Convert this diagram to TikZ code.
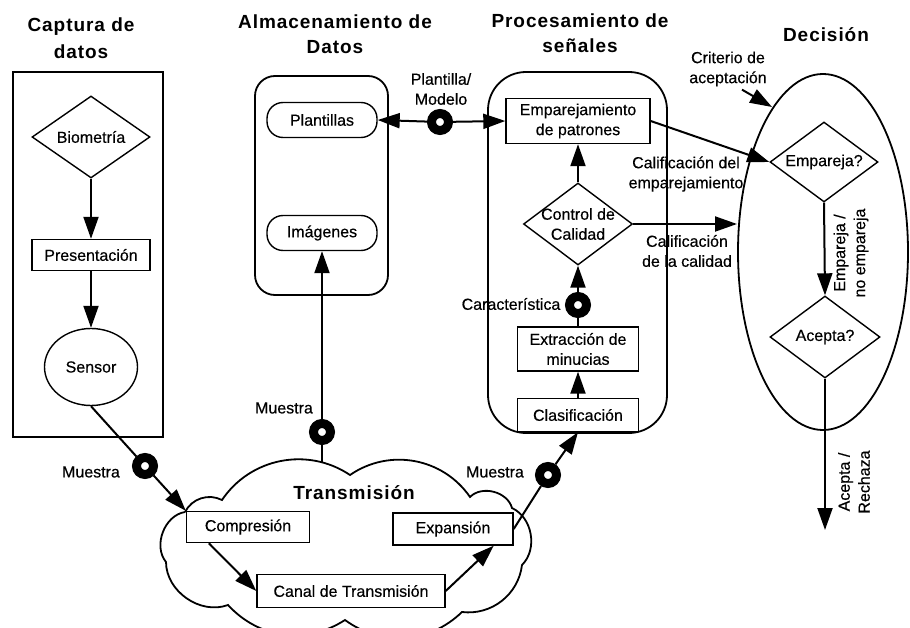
\documentclass[tikz,border=0pt]{standalone}
\usepackage{fontspec}
\setmainfont{Liberation Sans}
\newfontfamily\textofont[FakeBold=0.4]{Liberation Sans}
\newfontfamily\titfont[LetterSpace=5]{Liberation Sans}
\usepackage{tikz}
\usetikzlibrary{calc}
\usetikzlibrary{shapes}
\usetikzlibrary{arrows.meta}
\newcommand{\anillo}[3]{\node[anillo] (#1) at ( #2 , #3 ) {};}
\newcommand{\titulo}[4]{\node[tit] (#1) at ( #2 , #3 ) {#4};}

\begin{document}
\begin{tikzpicture}[x=1pt,y=-1pt,
    every node/.style={font=\textofont\fontsize{16}{20}\selectfont, inner sep=1pt, align=center},
    tit/.style={font=\titfont\bfseries\fontsize{19}{23}\selectfont},
    caja/.style={draw, line width=1.4pt},
    rombo/.style={draw, diamond, line width=1.4pt, aspect=1.35, inner sep=0pt},
    pildora/.style={draw, line width=1.4pt, rounded corners=16pt, minimum width=110pt, minimum height=35pt},
    anillo/.style={circle, draw=black, line width=9pt, fill=white, minimum size=17pt, inner sep=0pt},
    marco/.style={line width=1.8pt},
    linea/.style={line width=2pt},
    flecha/.style={line width=2pt, -{Triangle[length=22pt,width=15pt]}}]
    \useasboundingbox (0,0) rectangle (910,628);

    % titulos
    \titulo{t1}{81}{27}{Captura de}
    \titulo{t2}{81}{52}{datos}
    \titulo{t3}{335}{22}{Almacenamiento de}
    \titulo{t4}{335}{47}{Datos}
    \titulo{t5}{580}{21}{Procesamiento de}
    \titulo{t6}{580}{46}{señales}
    \titulo{t7}{826}{35}{Decisión}

    % contenedores
    \draw[marco] (13,72) rectangle (163,437);
    \draw[marco, rounded corners=20pt] (255,76) rectangle (388,295);
    \draw[marco, rounded corners=38pt] (488,72) rectangle (667,433);
    \draw[marco] (823,252) ellipse [x radius=85pt, y radius=178pt];
    \draw[marco] (185,512) to[bend left=45] (222,500) to[bend left=45] (350,475)
        to[bend left=45] (470,497) to[bend left=60] (512,508) to[bend left=55] (522,565)
        to[bend left=45] (462,612) to[bend left=40] (345,620) to[bend left=40] (228,605)
        to[bend left=55] (166,562) to[bend left=60] (185,512);
    \coordinate (nubearriba) at (322,462);

    % captura
    \node[rombo, minimum width=118pt, minimum height=82pt] (bio) at (91,137) {Biometría};
    \node[caja, minimum width=118pt, minimum height=31pt] (pres) at (91,255) {Presentación};
    \node[draw, ellipse, line width=1.4pt, minimum width=93pt, minimum height=77pt] (sensor) at (91,367) {Sensor};

    % almacenamiento
    \node[pildora] (plant) at (322,120) {Plantillas};
    \node[pildora] (imag) at (322,233) {Imágenes};

    % procesamiento
    \node[caja, minimum width=144pt, minimum height=45pt] (empat) at (578,121) {Emparejamiento\\de patrones};
    \node[rombo, minimum width=109pt, minimum height=82pt, inner sep=-7pt] (control) at (578,224) {Control de\\Calidad};
    \node[caja, minimum width=121pt, minimum height=44pt] (extrac) at (578,349) {Extracción de\\minucias};
    \node[caja, minimum width=121pt, minimum height=33pt] (clasif) at (578,415) {Clasificación};

    % transmision
    \node[tit] (trans) at (354,493) {Transmisión};
    \node[caja, minimum width=123pt, minimum height=31pt] (compr) at (248,527) {Compresión};
    \node[caja, minimum width=188pt, minimum height=33pt] (canal) at (351,591) {Canal de Transmisión};
    \node[caja, minimum width=120pt, minimum height=32pt] (expan) at (453,529) {Expansión};

    % decision
    \node[rombo, minimum width=108pt, minimum height=80pt] (empareja) at (824,162) {Empareja?};
    \node[rombo, minimum width=110pt, minimum height=82pt] (acepta) at (825,337) {Acepta?};
    \coordinate (bordecal) at (737,224);
    \coordinate (bordecrit) at (772,107);
    \coordinate (salida) at (825,530);

    % anillos
    \anillo{m1}{145}{466}
    \anillo{m2}{322}{432}
    \anillo{m3}{548}{475}
    \anillo{m4}{440}{122}
    \anillo{m5}{578}{305}

    % etiquetas
    \node (lm1) at (91,472) {Muestra};
    \node (lm2) at (284,408) {Muestra};
    \node (lm3) at (495,472) {Muestra};
    \node (lm4) at (441,89) {Plantilla/\\Modelo};
    \node (lm5) at (511,304) {Característica};
    \node (lcal1) at (686,174) {Calificación del\\emparejamiento};
    \node (lcal2) at (687,251) {Calificación\\de la calidad};
    \node (crit) at (728,69) {Criterio de\\aceptación};
    \node[rotate=90] (lemp) at (851,253) {Empareja /\\no empareja};
    \node[rotate=90] (lacep) at (854,482) {Acepta /\\Rechaza};

    % conexiones
    \draw[flecha] (bio.south) -- (pres.north);
    \draw[flecha] (pres.south) -- (sensor.north);
    \draw[linea] (sensor.south) -- (m1);
    \draw[flecha] (m1) -- (compr.north west);
    \draw[flecha] ($(compr.south west)+(23,0)$) -- (canal.west);
    \draw[flecha] (canal.east) -- ($(expan.south east)+(-20,0)$);
    \draw[linea] (expan.east) -- (m3);
    \draw[flecha] (m3) -- (clasif.south);
    \draw[linea] (nubearriba) -- (m2);
    \draw[flecha] (m2) -- (imag.south);
    \draw[flecha] (m4) -- (plant.east);
    \draw[flecha] (m4) -- (empat.west);
    \draw[flecha] (clasif.north) -- (extrac.south);
    \draw[linea] (extrac.north) -- (m5);
    \draw[flecha] (m5) -- (control.south);
    \draw[flecha] (control.north) -- (empat.south);
    \draw[flecha] (control.east) -- (bordecal);
    \draw[flecha] (empat.east) -- (empareja.west);
    \draw[flecha] ($(crit.south)+(14,2)$) -- (bordecrit);
    \draw[flecha] (empareja.south) -- (acepta.north);
    \draw[flecha] (acepta.south) -- (salida);

\end{tikzpicture}
\end{document}
